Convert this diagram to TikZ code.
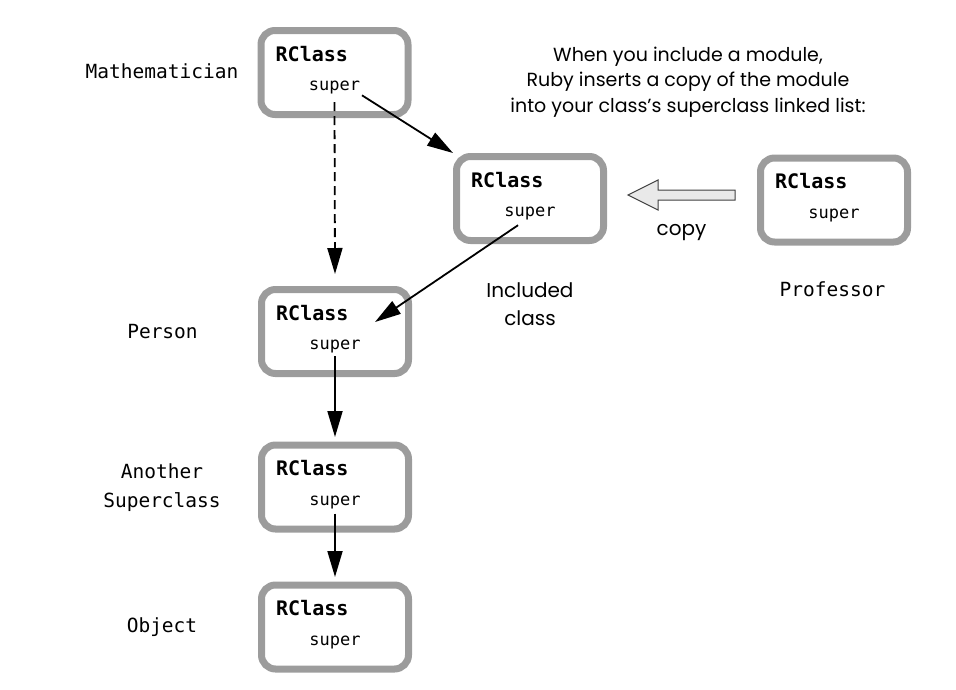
\documentclass[tikz,border=0pt]{standalone}
\usepackage{fontspec}
\setmonofont{DejaVu Sans Mono}
\newfontfamily\notefont{Poppins}
\usetikzlibrary{arrows.meta}

\definecolor{boxgray}{HTML}{9C9C9C}
\definecolor{copygray}{HTML}{E9E9E9}

\tikzset{
    rbox/.style={draw=boxgray, line width=7pt, rounded corners=14pt,
        minimum width=147pt, minimum height=84pt},
    rtitle/.style={font=\ttfamily\bfseries\fontsize{20}{22}\selectfont, inner sep=0pt, anchor=base west},
    rsuper/.style={font=\ttfamily\fontsize{17}{20}\selectfont, inner sep=0pt, anchor=base},
    lbl/.style={font=\ttfamily\fontsize{19.5}{29}\selectfont, align=center, inner sep=0pt, anchor=base},
    note/.style={font=\notefont\fontsize{19}{25.5}\selectfont, align=center, inner sep=0pt, anchor=base},
    link/.style={line width=1.8pt, -{Triangle[length=26pt,width=15pt]}}
}

\begin{document}
\begin{tikzpicture}[x=1pt, y=-1pt]
\useasboundingbox (0,0) rectangle (956,689);

% class boxes
\foreach \n/\x/\y in {math/334.5/72.5, incl/530/198.5, prof/834/200,
                      person/335/331.5, another/335/487, object/335/627}
{
    \node[rbox] (\n) at (\x,\y) {};
    \node[rtitle] (\n-t) at ([xshift=18pt,yshift=-34pt]\n.north west) {RClass};
    \node[rsuper] (\n-s) at ([yshift=-18pt]\n.center) {super};
}

% labels
\node[lbl] (l-math)    at (162,78.3) {Mathematician};
\node[lbl] (l-person)  at (162.5,338) {Person};
\node[lbl] (l-another) at (162,507) {Another\\Superclass};
\node[lbl] (l-object)  at (162,632) {Object};
\node[lbl] (l-prof)    at (832.5,296) {Professor};

\node[note] (n-text) at (688,112) {When you include a module,\\Ruby inserts a copy of the module\\into your class’s superclass linked list:};
\node[note, font=\notefont\fontsize{20}{28}\selectfont] (n-incl) at (530,325) {Included\\class};
\node[note, font=\notefont\fontsize{20}{28}\selectfont] (n-copy) at (681.5,235) {copy};

% superclass links
\draw[link, dashed, dash pattern=on 9pt off 5pt] ([yshift=-8pt]math-s.south) -- ([yshift=12pt]person.north);
\draw[link, shorten <=2pt] (math-s.south east) -- (incl.north west);
\draw[link] ([xshift=-12pt,yshift=-5pt]incl-s.south) -- ([xshift=40pt,yshift=9.5pt]person.center);
\draw[link, shorten <=3pt] (person-s.south) -- ([yshift=4.5pt]another.north);
\draw[link, shorten <=5pt] (another-s.south) -- ([yshift=4.5pt]object.north);

% copy arrow
\draw[fill=copygray, draw=black!75, line width=1pt]
    (628,195) -- (658,180) -- (658,190) -- (735,190) -- (735,200)
    -- (658,200) -- (658,210) -- cycle;

\end{tikzpicture}
\end{document}
